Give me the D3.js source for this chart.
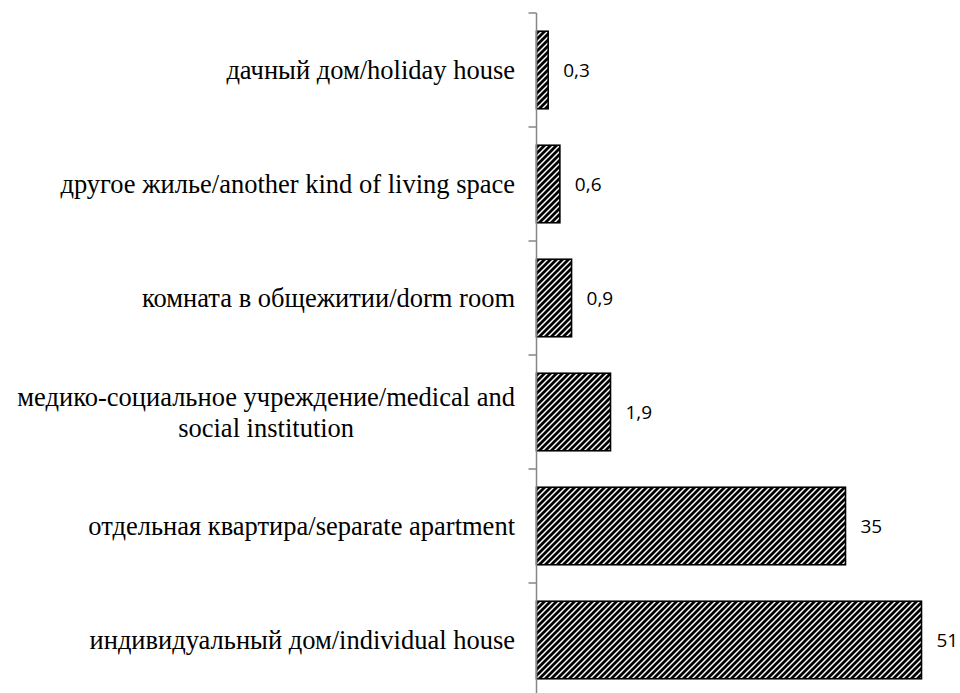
<!DOCTYPE html>
<html lang="en">
  <head>
    <meta charset="UTF-8" />
    <title>Living space</title>
    <style>
      body { margin: 0; background: #fff; }
    </style>
  </head>
  <body>
    <svg id="svg" width="960" height="693"></svg>

    <script src="https://cdn.jsdelivr.net/npm/d3@7"></script>
    <script>
      // top to bottom, as in the picture
      const categories = [
        ["дачный дом/holiday house"],
        ["другое жилье/another kind of living space"],
        ["комната в общежитии/dorm room"],
        ["медико-социальное учреждение/medical and", "social institution"],
        ["отдельная квартира/separate apartment"],
        ["индивидуальный дом/individual house"],
      ];
      const values = [0.3, 0.6, 0.9, 1.9, 35, 51];
      const valueLabels = ["0,3", "0,6", "0,9", "1,9", "35", "51"];

      const svg = d3.select("#svg");
      const axisX = 536.5;

      // the bars in the source are not on one linear scale, so piecewise
      const xScale = d3
        .scaleLinear()
        .domain([0, 1.9, 35, 51])
        .range([axisX, axisX + 74, axisX + 309, axisX + 385]);

      const yScale = d3
        .scaleBand()
        .domain(d3.range(values.length))
        .range([13, 697])
        .padding(0);

      const step = yScale.step();
      const barH = step * 0.68;

      const defs = svg.append("defs");
      const pat = defs
        .append("pattern")
        .attr("id", "hatch")
        .attr("patternUnits", "userSpaceOnUse")
        .attr("width", 6)
        .attr("height", 6);
      pat.append("rect").attr("width", 6).attr("height", 6).attr("fill", "#fff");
      pat
        .append("path")
        .attr("d", "M-1,1 l2,-2 M0,6 l6,-6 M5,7 l2,-2")
        .attr("stroke", "#000")
        .attr("stroke-width", 2.8);

      // bars
      svg
        .selectAll("rect.bar")
        .data(values)
        .enter()
        .append("rect")
        .attr("class", "bar")
        .attr("x", axisX)
        .attr("y", (d, i) => yScale(i) + (step - barH) / 2)
        .attr("width", (d) => xScale(d) - axisX)
        .attr("height", barH)
        .attr("fill", "url(#hatch)")
        .attr("stroke", "#000")
        .attr("stroke-width", 1.6);

      // axis line and ticks at band edges
      svg
        .append("line")
        .attr("x1", axisX)
        .attr("x2", axisX)
        .attr("y1", yScale.range()[0])
        .attr("y2", yScale.range()[1])
        .attr("stroke", "#868686")
        .attr("stroke-width", 1.5);
      const edges = d3.range(values.length + 1).map((i) => yScale.range()[0] + i * step);
      svg
        .selectAll("line.tick")
        .data(edges)
        .enter()
        .append("line")
        .attr("class", "tick")
        .attr("x1", axisX - 8)
        .attr("x2", axisX)
        .attr("y1", (d) => d)
        .attr("y2", (d) => d)
        .attr("stroke", "#868686")
        .attr("stroke-width", 1.5);

      // value labels
      svg
        .selectAll("text.val")
        .data(values)
        .enter()
        .append("text")
        .attr("class", "val")
        .attr("x", (d) => xScale(d) + 15)
        .attr("y", (d, i) => yScale(i) + step / 2)
        .attr("dy", "0.35em")
        .attr("font-family", "'Open Sans', 'Liberation Sans', sans-serif")
        .attr("font-size", 19)
        .attr("fill", "#000")
        .text((d, i) => valueLabels[i]);

      // category labels, multi-line ones centred on each other
      const labelRight = 515;
      const lineH = 31;
      categories.forEach((lines, i) => {
        const g = svg
          .append("text")
          .attr("font-family", "'Liberation Serif', 'Times New Roman', serif")
          .attr("font-size", 26.5)
          .attr("fill", "#000")
          .attr("text-anchor", "middle");
        const cy = yScale(i) + step / 2;
        const spans = lines.map((t, k) =>
          g
            .append("tspan")
            .attr("y", cy + (k - (lines.length - 1) / 2) * lineH)
            .attr("dy", "0.35em")
            .text(t)
        );
        const w = d3.max(spans, (s) => s.node().getComputedTextLength());
        spans.forEach((s) => s.attr("x", labelRight - w / 2));
      });
    </script>
  </body>
</html>
